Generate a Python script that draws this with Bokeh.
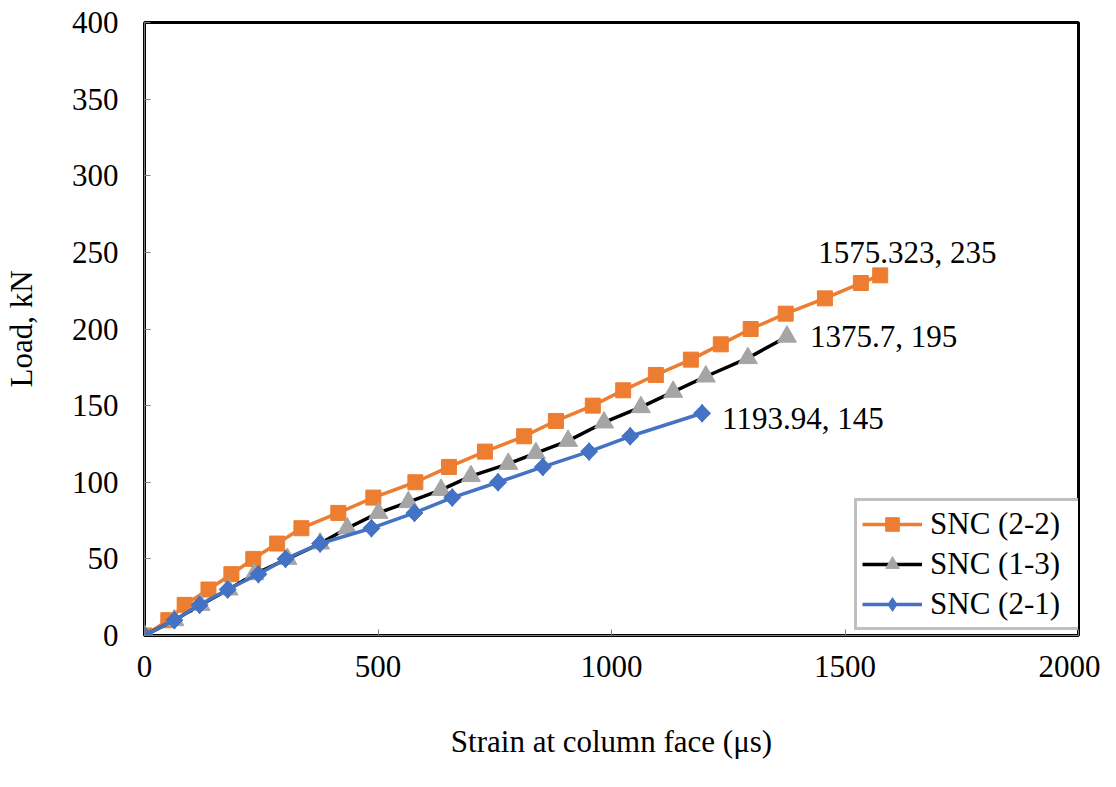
import math
from bokeh.plotting import figure
from bokeh.models import Range1d, Legend, LegendItem, Label, FixedTicker
from bokeh.embed import file_html
from bokeh.resources import INLINE

# SNC (2-2)
x_22 = [0, 51, 86, 137, 186, 233, 284, 336, 415, 490, 580, 652, 729, 813, 881, 960,
        1025, 1095, 1170, 1234, 1298, 1373, 1457, 1534, 1575.323]
y_22 = [0, 10, 20, 30, 40, 50, 60, 70, 80, 90, 100, 110, 120, 130, 140, 150,
        160, 170, 180, 190, 200, 210, 220, 230, 235]
# SNC (1-3)
x_13 = [0, 64, 120, 180, 235, 306, 376, 434, 501, 565, 635, 699, 779, 838, 907, 984,
        1063, 1132, 1202, 1292, 1375.7]
y_13 = [0, 10, 20, 30, 40, 50, 60, 70, 80, 87, 95, 104, 112, 119, 127, 139,
        149, 159, 169, 181, 195]
# SNC (2-1)
x_21 = [0, 64, 118, 178, 244, 302, 376, 486, 578, 659, 757, 853, 952, 1040, 1193.94]
y_21 = [0, 10, 20, 30, 40, 50, 60, 70, 80, 90, 100, 110, 120, 130, 145]

x_ticks = [0, 500, 1000, 1500, 2000]
y_ticks = [0, 50, 100, 150, 200, 250, 300, 350, 400]

FONT = "Liberation Serif"
FS = "31px"

p = figure(width=1100, height=771, output_backend="svg", toolbar_location=None,
           x_range=Range1d(0, 2000), y_range=Range1d(0, 400),
           min_border_left=143, min_border_right=22, min_border_top=22,
           min_border_bottom=136)
p.xgrid.visible = False
p.ygrid.visible = False
p.outline_line_color = "black"
p.outline_line_width = 3
p.background_fill_color = "white"
p.border_fill_color = "white"

for ax in (p.xaxis[0], p.yaxis[0]):
    ax.axis_line_color = "#7f7f7f"
    ax.axis_line_width = 1
    ax.major_tick_in = 6
    ax.major_tick_out = 0
    ax.major_tick_line_color = "#7f7f7f"
    ax.minor_tick_line_color = None
    ax.major_label_text_font = FONT
    ax.major_label_text_font_size = FS
    ax.major_label_text_color = "black"
    ax.axis_label_text_font = FONT
    ax.axis_label_text_font_size = FS
    ax.axis_label_text_font_style = "normal"
    ax.axis_label_text_color = "black"

p.xaxis.ticker = FixedTicker(ticks=x_ticks)
p.yaxis.ticker = FixedTicker(ticks=y_ticks)
p.xaxis.axis_label = "Strain at column face (μs)"
p.yaxis.axis_label = "Load, kN"
p.xaxis.major_label_standoff = 20
p.xaxis.axis_label_standoff = 44
p.yaxis.major_label_standoff = 26
p.yaxis.axis_label_standoff = 30

l1 = p.line(x_22, y_22, line_color="#ED7D31", line_width=3.5)
s1 = p.scatter(x_22, y_22, marker="square", size=15, fill_color="#ED7D31", line_color="#ED7D31")
l2 = p.line(x_13, y_13, line_color="black", line_width=3.5)
s2 = p.scatter(x_13, y_13, marker="triangle", size=19, fill_color="#A5A5A5", line_color="#A5A5A5")
l3 = p.line(x_21, y_21, line_color="#4472C4", line_width=3.5)
# diamond (used by the legend), covered in the plot by a rotated square
s3_leg = p.scatter(x_21, y_21, marker="diamond", size=18,
                   fill_color="#4472C4", line_color="#4472C4")
s3 = p.scatter(x_21, y_21, marker="square", angle=math.pi / 4, size=12,
               fill_color="#4472C4", line_color="#4472C4")

def fmt(v):
    return str(v)

labels = [
    (x_22[-1], y_22[-1], -62, 23),
    (x_13[-1], y_13[-1], 23, 0),
    (x_21[-1], y_21[-1], 20, -5),
]
for lx, ly, ox, oy in labels:
    p.add_layout(Label(x=lx, y=ly, x_offset=ox, y_offset=oy,
                       text=f"{fmt(lx)}, {fmt(ly)}", text_font=FONT,
                       text_font_size=FS, text_color="black",
                       text_baseline="middle", text_align="left"))

legend = Legend(items=[
    LegendItem(label="SNC (2-2)", renderers=[l1, s1]),
    LegendItem(label="SNC (1-3)", renderers=[l2, s2]),
    LegendItem(label="SNC (2-1)", renderers=[l3, s3_leg]),
], location=(710, 5), orientation="vertical")
legend.label_text_font = FONT
legend.label_text_font_size = FS
legend.label_text_color = "black"
legend.glyph_width = 60
legend.glyph_height = 34
legend.label_height = 34
legend.label_width = 148
legend.label_standoff = 8
legend.spacing = 4
legend.padding = 5
legend.border_line_color = "#7f7f7f"
legend.border_line_width = 3
legend.background_fill_color = "white"
legend.background_fill_alpha = 1
p.add_layout(legend, "center")

open("out.html", "w").write(file_html(p, INLINE))
